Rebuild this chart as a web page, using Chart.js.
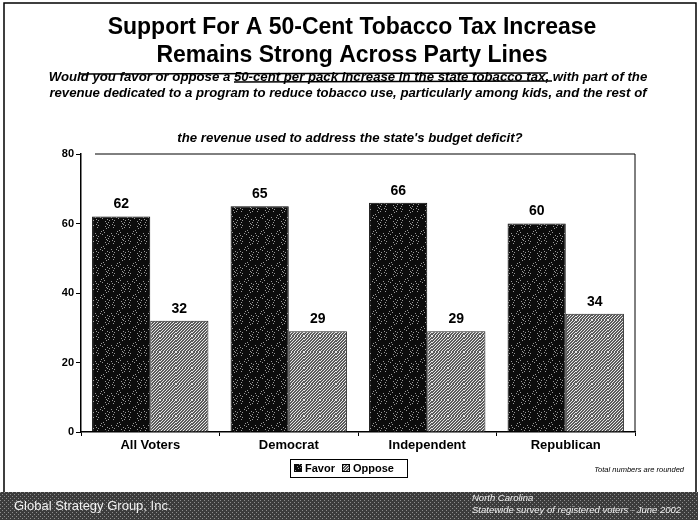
<!DOCTYPE html>
<html>
<head>
<meta charset="utf-8">
<script src="https://cdn.jsdelivr.net/npm/chart.js@4.4.1/dist/chart.umd.min.js"></script>
<style>
  html, body { margin: 0; padding: 0; background: #fff; }
  #wrap { width: 698px; height: 520px; }
</style>
</head>
<body>
<div id="wrap"><canvas id="chart" width="698" height="520"></canvas></div>
<script>
// chart data
const categories = [ 'All Voters', 'Democrat', 'Independent', 'Republican' ];
const favorValues = [ 62, 65, 66, 60 ];
const opposeValues = [ 32, 29, 29, 34 ];
const yTicks = [ 0, 20, 40, 60, 80 ];

const titleLines = [ 'Support For A 50-Cent Tobacco Tax Increase', 'Remains Strong Across Party Lines' ];
const questionLines = [
	'Would you favor or oppose a 50-cent per pack increase in the state tobacco tax, with part of the',
	'revenue dedicated to a program to reduce tobacco use, particularly among kids, and the rest of',
	'the revenue used to address the state\'s budget deficit?'
];

const FONT = "'Liberation Sans', Arial, Helvetica, sans-serif";

// small fixed dither tile, gives the scanned "speckle" look
function makePattern( base, dot, every ) {
	const c = document.createElement( 'canvas' );
	c.width = 16;
	c.height = 16;
	const g = c.getContext( '2d' );
	g.fillStyle = base;
	g.fillRect( 0, 0, 16, 16 );
	g.fillStyle = dot;
	for ( let y = 0; y < 16; y++ ) {
		for ( let x = 0; x < 16; x++ ) {
			const h = ( x * 7 + y * 13 + x * y * 3 ) % every;
			if ( h === 0 )
				g.fillRect( x, y, 1, 1 );
		}
	}
	return g.createPattern( c, 'repeat' );
}

const ctx0 = document.getElementById( 'chart' ).getContext( '2d' );
const favorFill = makePattern( '#0c0c0c', '#9a9a9a', 11 );
const opposeFill = makePattern( '#5a5a5a', '#e8e8e8', 3 );
const footerFill = makePattern( '#3c3c3c', '#8c8c8c', 4 );

// texts, frame, footer, legend and value labels
const decorations = {
	id: 'decorations',
	afterDraw: function ( chart ) {
		const ctx = chart.ctx;
		const area = chart.chartArea;
		ctx.save();

		// outer frame
		ctx.strokeStyle = '#000';
		ctx.lineWidth = 1.5;
		ctx.beginPath();
		ctx.moveTo( 4, 493 );
		ctx.lineTo( 4, 3 );
		ctx.lineTo( 696, 3 );
		ctx.lineTo( 696, 493 );
		ctx.stroke();

		// footer band
		ctx.fillStyle = footerFill;
		ctx.fillRect( 0, 492, 698, 28 );
		ctx.fillStyle = '#f2f2f2';
		ctx.textBaseline = 'middle';
		ctx.textAlign = 'left';
		ctx.font = '13px ' + FONT;
		ctx.fillText( 'Global Strategy Group, Inc.', 14, 506 );
		ctx.font = 'italic 9.5px ' + FONT;
		ctx.fillText( 'North Carolina', 472, 498 );
		ctx.fillText( 'Statewide survey of registered voters - June 2002', 472, 510 );

		// title
		ctx.fillStyle = '#000';
		ctx.textAlign = 'center';
		ctx.font = 'bold 23px ' + FONT;
		ctx.fillText( titleLines[0], 352, 28 );
		ctx.fillText( titleLines[1], 352, 56 );

		// question
		ctx.font = 'italic bold 13.2px ' + FONT;
		ctx.fillText( questionLines[0], 348, 77 );
		ctx.fillText( questionLines[1], 348, 93 );
		ctx.fillText( questionLines[2], 350, 138 );

		// pen marks over the question
		ctx.lineWidth = 1.5;
		ctx.beginPath();
		ctx.moveTo( 80, 74 );
		ctx.lineTo( 548, 73 );
		ctx.moveTo( 234, 82 );
		ctx.lineTo( 552, 81 );
		ctx.stroke();

		// plot box top and right edge
		ctx.lineWidth = 1;
		ctx.beginPath();
		ctx.moveTo( area.left + 14, area.top );
		ctx.lineTo( area.right, area.top );
		ctx.lineTo( area.right, area.bottom );
		ctx.stroke();

		// value labels
		ctx.font = 'bold 14px ' + FONT;
		ctx.textBaseline = 'bottom';
		chart.data.datasets.forEach( function ( ds, i ) {
			chart.getDatasetMeta( i ).data.forEach( function ( bar, j ) {
				ctx.fillText( String( ds.data[j] ), bar.x, bar.y - 5 );
			} );
		} );

		// legend
		ctx.lineWidth = 1;
		ctx.strokeStyle = '#000';
		ctx.strokeRect( 290.5, 459.5, 117, 18 );
		ctx.fillStyle = favorFill;
		ctx.fillRect( 294, 464, 8, 8 );
		ctx.fillStyle = opposeFill;
		ctx.fillRect( 342, 464, 8, 8 );
		ctx.strokeStyle = '#000';
		ctx.strokeRect( 342.5, 464.5, 7, 7 );
		ctx.fillStyle = '#000';
		ctx.textAlign = 'left';
		ctx.textBaseline = 'middle';
		ctx.font = 'bold 11px ' + FONT;
		ctx.fillText( 'Favor', 305, 469 );
		ctx.fillText( 'Oppose', 353, 469 );

		// note
		ctx.textAlign = 'right';
		ctx.font = 'italic 7.5px ' + FONT;
		ctx.fillText( 'Total numbers are rounded', 684, 470 );

		ctx.restore();
	}
};

new Chart( ctx0, {
	type: 'bar',
	data: {
		labels: categories,
		datasets: [
			{
				label: 'Favor',
				data: favorValues,
				backgroundColor: favorFill,
				borderColor: '#000',
				borderWidth: 1
			},
			{
				label: 'Oppose',
				data: opposeValues,
				backgroundColor: opposeFill,
				borderColor: '#222',
				borderWidth: 1
			}
		]
	},
	options: {
		responsive: false,
		animation: false,
		devicePixelRatio: 1,
		layout: {
			padding: { top: 154, left: 51, right: 63, bottom: 58 }
		},
		datasets: {
			bar: { barPercentage: 1, categoryPercentage: 0.84 }
		},
		plugins: {
			legend: { display: false },
			title: { display: false },
			tooltip: { enabled: false }
		},
		scales: {
			x: {
				afterFit: function ( scale ) { scale.height = 30; },
				grid: {
					offset: true,
					drawOnChartArea: false,
					drawTicks: true,
					tickLength: 4,
					color: '#000'
				},
				border: { display: true, color: '#000', width: 1.5 },
				ticks: {
					color: '#000',
					padding: 2,
					font: { family: FONT, size: 13, weight: 'bold' }
				}
			},
			y: {
				min: 0,
				max: 80,
				afterFit: function ( scale ) { scale.width = 30; },
				afterBuildTicks: function ( scale ) {
					scale.ticks = yTicks.map( function ( v ) { return { value: v }; } );
				},
				grid: {
					drawOnChartArea: false,
					drawTicks: true,
					tickLength: 5,
					color: '#000'
				},
				border: { display: true, color: '#000', width: 1.5 },
				ticks: {
					color: '#000',
					padding: 2,
					font: { family: FONT, size: 11, weight: 'bold' }
				}
			}
		}
	},
	plugins: [ decorations ]
} );
</script>
</body>
</html>
